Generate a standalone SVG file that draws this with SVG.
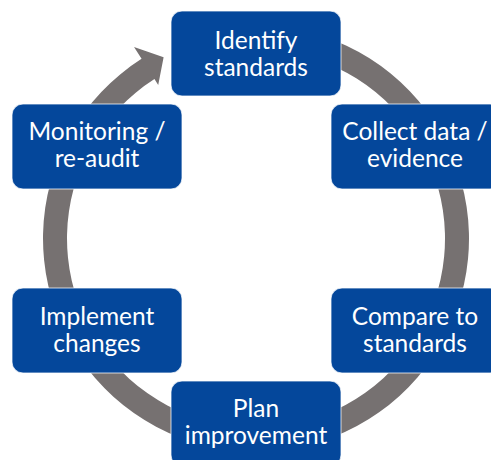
<svg xmlns="http://www.w3.org/2000/svg" width="491" height="460" viewBox="0 0 491 460">
<style>
.box{fill:#04479B;stroke:#ffffff;stroke-opacity:0.75;stroke-width:1}
.lbl{font-family:Lato,"Liberation Sans",sans-serif;font-size:24.5px;fill:#ffffff;text-anchor:middle}
.ring{fill:#767171}
</style>
<rect width="491" height="460" fill="#ffffff"/>
<g id="connectors">
<path class="ring" d="M219.01,28.74 A213,213 0 1 1 141.56,58.86 L134.03,47.05 L163.61,57.18 L158.21,85.0 L154.45,79.10 A189,189 0 1 0 223.18,52.37 Z"/>
</g>
<g id="identify">
<rect class="box" x="171" y="11" width="170" height="85" rx="11"/>
<text class="lbl" x="256" y="49">Identify</text>
<text class="lbl" x="256" y="76">standards</text>
</g>
<g id="collect">
<rect class="box" x="331" y="104" width="170" height="85" rx="11"/>
<text class="lbl" x="415" y="139.5">Collect data /</text>
<text class="lbl" x="415" y="166.5">evidence</text>
</g>
<g id="compare">
<rect class="box" x="331" y="288" width="170" height="85" rx="11"/>
<text class="lbl" x="415" y="324.5">Compare to</text>
<text class="lbl" x="415" y="351.5">standards</text>
</g>
<g id="plan">
<rect class="box" x="171" y="381" width="170" height="85" rx="11"/>
<text class="lbl" x="256" y="417">Plan</text>
<text class="lbl" x="256" y="443.5">improvement</text>
</g>
<g id="implement">
<rect class="box" x="12" y="288" width="170" height="85" rx="11"/>
<text class="lbl" x="97" y="324.5">Implement</text>
<text class="lbl" x="97" y="351.5">changes</text>
</g>
<g id="monitoring">
<rect class="box" x="12" y="104" width="170" height="85" rx="11"/>
<text class="lbl" x="97" y="139.5">Monitoring /</text>
<text class="lbl" x="97" y="166.5">re-audit</text>
</g>
</svg>
